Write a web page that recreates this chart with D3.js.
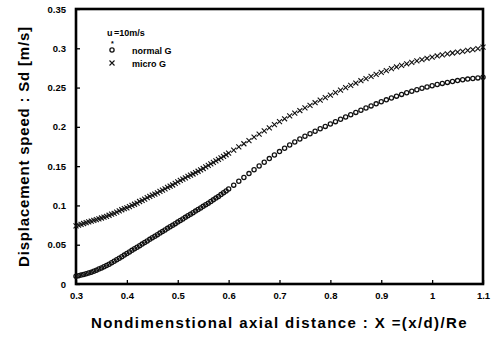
<!DOCTYPE html>
<html>
<head>
<meta charset="utf-8">
<script src="https://cdn.jsdelivr.net/npm/d3@7"></script>
<style>
  body { margin: 0; background: #fff; }
  svg { display: block; font-family: "Liberation Sans", Arial, sans-serif; }
</style>
</head>
<body>
<div id="chart"></div>
<script>
const width = 493
const height = 337
const margin = ({top: 9, right: 10, bottom: 53, left: 76})

// x positions of the samples (denser at the start, as in the figure)
const xs = [
  0.300, 0.305, 0.310, 0.315, 0.320, 0.325, 0.330, 0.335, 0.340, 0.345,
  0.350, 0.355, 0.360, 0.365, 0.370, 0.375, 0.380, 0.385, 0.390, 0.395,
  0.400, 0.405, 0.410, 0.415, 0.420, 0.425, 0.430, 0.435, 0.440, 0.445,
  0.450, 0.455, 0.460, 0.465, 0.470, 0.475, 0.480, 0.485, 0.490, 0.495,
  0.500, 0.505, 0.510, 0.515, 0.520, 0.525, 0.530, 0.535, 0.540, 0.545,
  0.550, 0.555, 0.560, 0.565, 0.570, 0.575, 0.580, 0.585, 0.590, 0.595,
  0.600,
  0.61, 0.62, 0.63, 0.64, 0.65, 0.66, 0.67, 0.68, 0.69, 0.70,
  0.71, 0.72, 0.73, 0.74, 0.75, 0.76, 0.77, 0.78, 0.79, 0.80,
  0.81, 0.82, 0.83, 0.84, 0.85, 0.86, 0.87, 0.88, 0.89, 0.90,
  0.91, 0.92, 0.93, 0.94, 0.95, 0.96, 0.97, 0.98, 0.99, 1.00,
  1.01, 1.02, 1.03, 1.04, 1.05, 1.06, 1.07, 1.08, 1.09, 1.10
]

// normal G (open circles)
const normalG = [
  0.0100, 0.0106, 0.0113, 0.0121, 0.0130, 0.0140, 0.0151, 0.0163, 0.0176, 0.0190,
  0.0204, 0.0219, 0.0235, 0.0252, 0.0270, 0.0289, 0.0308, 0.0328, 0.0348, 0.0368,
  0.0388, 0.0408, 0.0428, 0.0448, 0.0468, 0.0488, 0.0508, 0.0528, 0.0548, 0.0568,
  0.0588, 0.0608, 0.0628, 0.0648, 0.0668, 0.0688, 0.0708, 0.0728, 0.0748, 0.0768,
  0.0788, 0.0808, 0.0828, 0.0848, 0.0868, 0.0888, 0.0908, 0.0928, 0.0948, 0.0968,
  0.0988, 0.1008, 0.1029, 0.1050, 0.1071, 0.1093, 0.1115, 0.1138, 0.1161, 0.1185,
  0.1209,
  0.1258, 0.1307, 0.1356, 0.1405, 0.1454, 0.1502, 0.1550, 0.1596, 0.1641, 0.1685,
  0.1728, 0.1769, 0.1808, 0.1845, 0.1880, 0.1913, 0.1945, 0.1976, 0.2006, 0.2036,
  0.2066, 0.2096, 0.2126, 0.2155, 0.2184, 0.2212, 0.2240, 0.2267, 0.2293, 0.2319,
  0.2344, 0.2368, 0.2391, 0.2413, 0.2434, 0.2454, 0.2473, 0.2491, 0.2508, 0.2524,
  0.2539, 0.2553, 0.2566, 0.2578, 0.2589, 0.2599, 0.2608, 0.2616, 0.2623, 0.2632
]

// micro G (crosses)
const microG = [
  0.0740, 0.0750, 0.0760, 0.0770, 0.0780, 0.0790, 0.0800, 0.0810, 0.0820, 0.0830,
  0.0840, 0.0850, 0.0860, 0.0875, 0.0890, 0.0900, 0.0915, 0.0930, 0.0945, 0.0960,
  0.0970, 0.0985, 0.1000, 0.1015, 0.1030, 0.1050, 0.1065, 0.1080, 0.1100, 0.1115,
  0.1130, 0.1145, 0.1160, 0.1180, 0.1195, 0.1210, 0.1230, 0.1245, 0.1260, 0.1280,
  0.1300, 0.1318, 0.1335, 0.1352, 0.1370, 0.1385, 0.1400, 0.1418, 0.1435, 0.1452,
  0.1470, 0.1490, 0.1510, 0.1529, 0.1548, 0.1567, 0.1586, 0.1605, 0.1625, 0.1645,
  0.1665,
  0.1705, 0.1745, 0.1785, 0.1825, 0.1868, 0.1908, 0.1948, 0.1988, 0.2028, 0.2066,
  0.2103, 0.2139, 0.2174, 0.2208, 0.2241, 0.2274, 0.2307, 0.2339, 0.2371, 0.2403,
  0.2435, 0.2467, 0.2498, 0.2528, 0.2558, 0.2587, 0.2615, 0.2642, 0.2668, 0.2693,
  0.2717, 0.2740, 0.2762, 0.2783, 0.2803, 0.2822, 0.2840, 0.2857, 0.2873, 0.2888,
  0.2902, 0.2915, 0.2928, 0.2940, 0.2951, 0.2962, 0.2973, 0.2984, 0.2995, 0.3015
]

const xTicks = [0.3, 0.4, 0.5, 0.6, 0.7, 0.8, 0.9, 1, 1.1]
const yTicks = [0, 0.05, 0.1, 0.15, 0.2, 0.25, 0.3, 0.35]

const x = d3.scaleLinear()
  .domain([0.3, 1.1])
  .range([margin.left, width - margin.right])

const y = d3.scaleLinear()
  .domain([0, 0.35])
  .range([height - margin.bottom, margin.top])

const svg = d3.select("#chart").append("svg")
  .attr("width", width)
  .attr("height", height)
  .attr("viewBox", [0, 0, width, height])

const xAxis = g => g
  .attr("transform", `translate(0,${height - margin.bottom})`)
  .call(d3.axisBottom(x).tickValues(xTicks).tickSize(-4).tickPadding(8)
    .tickFormat(d => d3.format("")(+d.toFixed(2))))
  .call(g => g.select(".domain").remove())
  .call(g => g.selectAll(".tick line").attr("stroke-width", 1.3))
  .call(g => g.selectAll(".tick text").attr("font-size", 9.5).attr("font-weight", "bold"))

const yAxis = g => g
  .attr("transform", `translate(${margin.left},0)`)
  .call(d3.axisLeft(y).tickValues(yTicks).tickSize(-4).tickPadding(10)
    .tickFormat(d => d3.format("")(+d.toFixed(2))))
  .call(g => g.select(".domain").remove())
  .call(g => g.selectAll(".tick line").attr("stroke-width", 1.3))
  .call(g => g.selectAll(".tick text").attr("font-size", 9.5).attr("font-weight", "bold"))

svg.append("g").call(xAxis)
svg.append("g").call(yAxis)

// frame
svg.append("rect")
  .attr("x", margin.left)
  .attr("y", margin.top)
  .attr("width", width - margin.right - margin.left)
  .attr("height", height - margin.bottom - margin.top)
  .attr("fill", "none")
  .attr("stroke", "#000")
  .attr("stroke-width", 2.6)

const normalData = xs.map((d, i) => ({x: d, v: normalG[i]}))
const microData = xs.map((d, i) => ({x: d, v: microG[i]}))

const cross = d3.symbol().type(d3.symbolTimes).size(18)

svg.append("g")
  .selectAll("path")
  .data(microData)
  .join("path")
    .attr("transform", d => `translate(${x(d.x)},${y(d.v)})`)
    .attr("d", cross)
    .attr("fill", "#111")
    .attr("stroke", "#111")
    .attr("stroke-width", 1.1)

svg.append("g")
  .selectAll("circle")
  .data(normalData)
  .join("circle")
    .attr("cx", d => x(d.x))
    .attr("cy", d => y(d.v))
    .attr("r", 2.1)
    .attr("fill", "none")
    .attr("stroke", "#111")
    .attr("stroke-width", 1.3)

// legend
const legend = svg.append("g").attr("font-size", 9).attr("font-weight", "bold")
legend.append("text").attr("x", 107).attr("y", 36).text("u")
legend.append("text").attr("x", 111).attr("y", 46).attr("font-size", 7).text("*")
legend.append("text").attr("x", 114).attr("y", 36).text("=10m/s")
legend.append("circle").attr("cx", 112).attr("cy", 50).attr("r", 2.1)
  .attr("fill", "none").attr("stroke", "#111").attr("stroke-width", 1.3)
legend.append("text").attr("x", 132).attr("y", 54).text("normal G")
legend.append("path").attr("transform", "translate(112,63)").attr("d", cross())
  .attr("fill", "#111").attr("stroke", "#111").attr("stroke-width", 1.1)
legend.append("text").attr("x", 132).attr("y", 67).text("micro G")

// axis titles
svg.append("text")
  .attr("x", (margin.left + width - margin.right) / 2)
  .attr("y", 328)
  .attr("text-anchor", "middle")
  .attr("font-size", 15)
  .attr("font-weight", "bold")
  .attr("letter-spacing", 1.4)
  .text("Nondimenstional axial distance : X =(x/d)/Re")

svg.append("text")
  .attr("transform", `translate(29,${(margin.top + height - margin.bottom) / 2}) rotate(-90)`)
  .attr("text-anchor", "middle")
  .attr("font-size", 15)
  .attr("font-weight", "bold")
  .attr("letter-spacing", 0.8)
  .text("Displacement speed : Sd [m/s]")
</script>
</body>
</html>
